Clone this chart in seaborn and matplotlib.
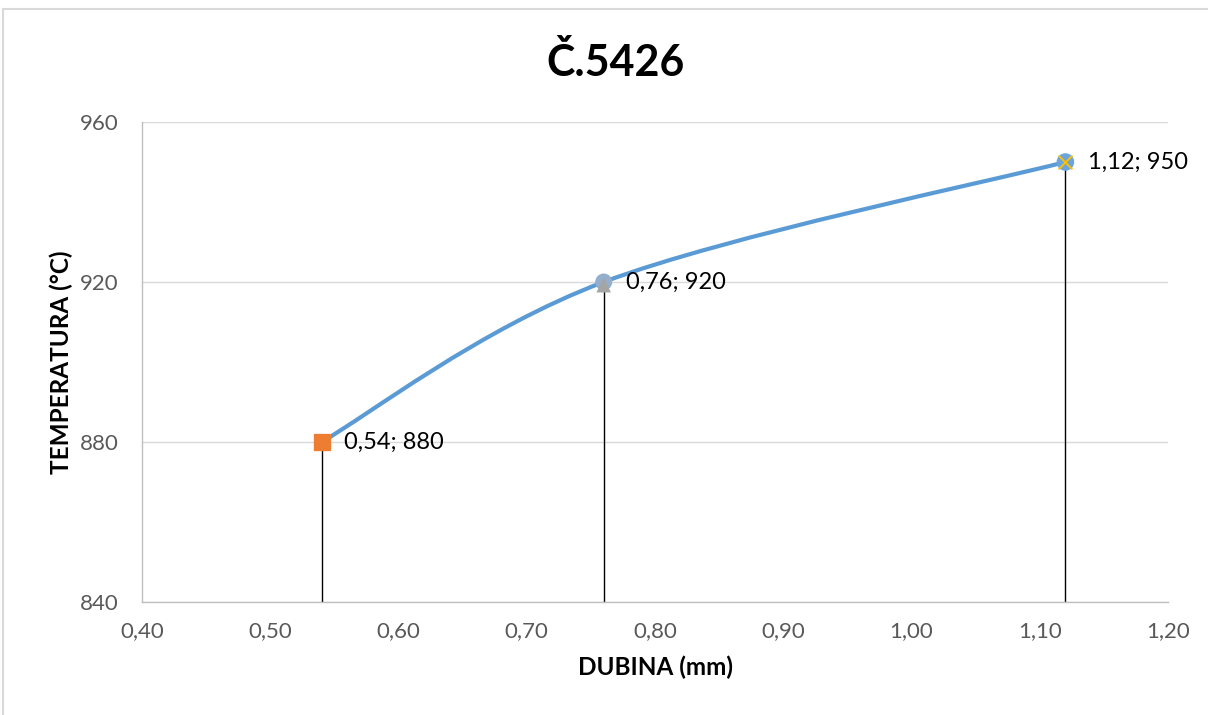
import numpy as np
import pandas as pd
import seaborn as sns
import matplotlib.pyplot as plt
from matplotlib.path import Path
from matplotlib.patches import PathPatch, Rectangle

dubina = [0.54, 0.76, 1.12]
temperatura = [880, 920, 950]
labels = ['0,54; 880', '0,76; 920', '1,12; 950']
x_ticks = [0.40, 0.50, 0.60, 0.70, 0.80, 0.90, 1.00, 1.10, 1.20]
y_ticks = [840, 880, 920, 960]

df = pd.DataFrame({'dubina': dubina, 'temperatura': temperatura})

sns.set_style('white')
plt.rcParams['font.family'] = ['Lato', 'DejaVu Sans']

fig = plt.figure(figsize=(12.08, 7.15), dpi=100)
ax = fig.add_axes([142 / 1208, 113 / 715, 1026 / 1208, 480 / 715])

# smoothed line (excel style), bezier controls from neighbouring points
pts = np.column_stack([dubina, temperatura]).astype(float)
ext = np.vstack([pts[0], pts, pts[-1]])
verts = [tuple(pts[0])]
codes = [Path.MOVETO]
for i in range(1, len(ext) - 2):
    p0, p1, p2, p3 = ext[i - 1], ext[i], ext[i + 1], ext[i + 2]
    c1 = p1 + (p2 - p0) / 6
    c2 = p2 - (p3 - p1) / 6
    verts += [tuple(c1), tuple(c2), tuple(p2)]
    codes += [Path.CURVE4] * 3
ax.add_patch(PathPatch(Path(verts, codes), facecolor='none', edgecolor='#5B9BD5',
                       lw=3, zorder=3, capstyle='round'))

# drop lines
ax.vlines(df['dubina'], 840, df['temperatura'], color='black', lw=1, zorder=2)

# markers
sns.scatterplot(x=[dubina[0]], y=[temperatura[0]], marker='s', s=140, color='#ED7D31',
                edgecolor='#ED7D31', ax=ax, zorder=5)
sns.scatterplot(x=[dubina[1]], y=[temperatura[1]], marker='o', s=150, color='#94AECB',
                edgecolor='none', ax=ax, zorder=5)
sns.scatterplot(x=[dubina[1]], y=[temperatura[1] - 0.8], marker='^', s=110, color='#A5A5A5',
                edgecolor='none', ax=ax, zorder=6)
sns.scatterplot(x=[dubina[2]], y=[temperatura[2]], marker='o', s=160, color='#6CA5DB',
                edgecolor='none', ax=ax, zorder=5)
sns.scatterplot(x=[dubina[2]], y=[temperatura[2]], marker='x', s=100, color='#FFC000',
                linewidth=1.3, ax=ax, zorder=6)

for xv, yv, lab in zip(dubina, temperatura, labels):
    ax.annotate(lab, (xv, yv), xytext=(16, 0), textcoords='offset points',
                ha='left', va='center', fontsize=17, color='black', zorder=7)

ax.set_xlim(0.40, 1.20)
ax.set_ylim(840, 960)
ax.set_xticks(x_ticks)
ax.set_yticks(y_ticks)
ax.set_xticklabels([f'{v:.2f}'.replace('.', ',') for v in x_ticks])
ax.set_yticklabels([str(v) for v in y_ticks])
ax.tick_params(axis='x', direction='out', length=6, width=1, color='#BFBFBF',
               labelsize=16, labelcolor='#595959', pad=8)
ax.tick_params(axis='y', length=0, labelsize=16, labelcolor='#595959', pad=17)
ax.grid(axis='y', color='#D9D9D9', lw=1)
ax.set_axisbelow(True)
for side in ['top', 'right']:
    ax.spines[side].set_visible(False)
for side in ['left', 'bottom']:
    ax.spines[side].set_color('#BFBFBF')
    ax.spines[side].set_linewidth(1)

ax.set_xlabel('DUBINA (mm)', fontsize=17.5, fontweight='bold', color='black', labelpad=10)
ax.set_ylabel('TEMPERATURA (°C)', fontsize=17.5, fontweight='bold', color='black', labelpad=5)
fig.text(615 / 1208, 1 - 62 / 715, 'Č.5426', ha='center', va='center',
         fontsize=31, fontweight='bold', color='black')

fig.patches.append(Rectangle((3 / 1208, -0.05), 1.1, (715 - 9) / 715 + 0.05,
                             transform=fig.transFigure, facecolor='none',
                             edgecolor='#D9D9D9', lw=1.5))

fig.savefig('out.png', dpi=100)
